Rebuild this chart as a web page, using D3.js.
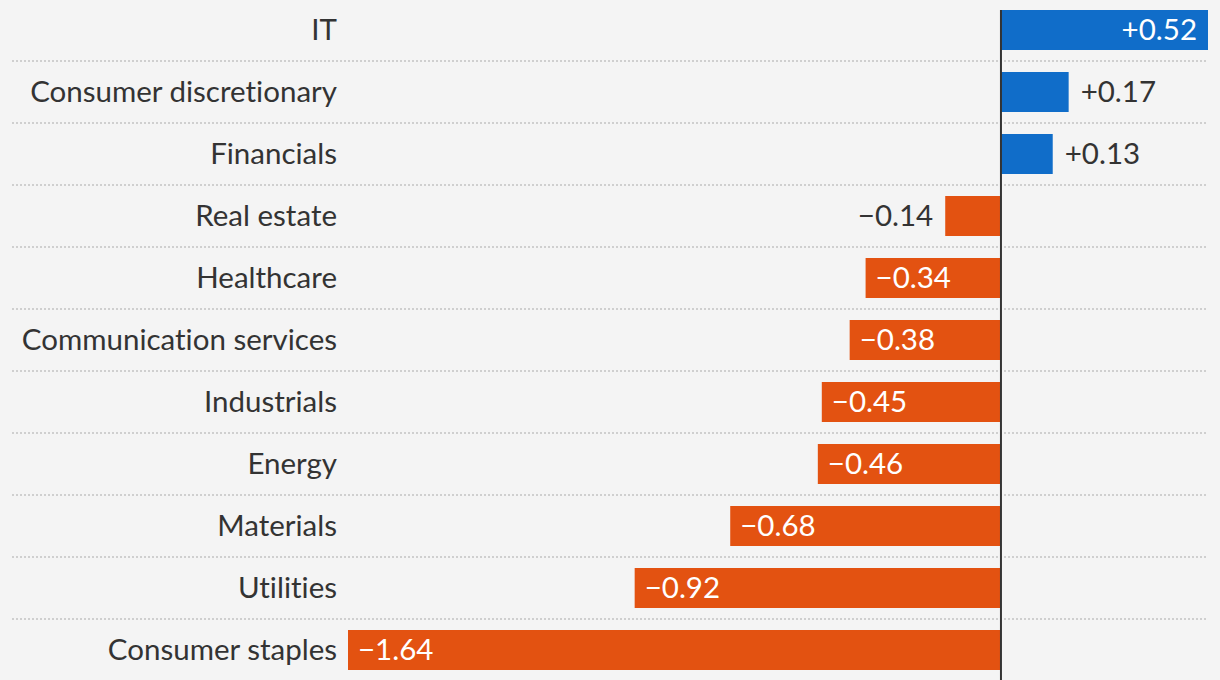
<!DOCTYPE html>
<html><head><meta charset="utf-8">
<script src="https://cdn.jsdelivr.net/npm/d3@7"></script>
<style>
html,body{margin:0;padding:0;background:#f4f4f4;}
svg{display:block;}
text{font-family:Lato,"Noto Sans",sans-serif;font-variant-ligatures:none;font-feature-settings:"liga" 0,"clig" 0;}
</style></head>
<body>
<svg id="c" width="1220" height="680"></svg>
<script>
const categories = ["IT","Consumer discretionary","Financials","Real estate","Healthcare","Communication services","Industrials","Energy","Materials","Utilities","Consumer staples"];
const values = [0.52,0.17,0.13,-0.14,-0.34,-0.38,-0.45,-0.46,-0.68,-0.92,-1.64];
const valueLabels = ["+0.52","+0.17","+0.13","−0.14","−0.34","−0.38","−0.45","−0.46","−0.68","−0.92","−1.64"];

const data = categories.map((c,i)=>({cat:c,v:values[i],lab:valueLabels[i]}));
const svg = d3.select("#c");
const W=1220,H=680;
const fs = 29.5;
const x = d3.scaleLinear().domain([-1.64,0.52]).range([348,1208]);
const y = d3.scaleBand().domain(categories).range([-1,681]).paddingInner(22/62).paddingOuter(11/62);
const bw = y.bandwidth();

svg.append("rect").attr("width",W).attr("height",H).attr("fill","#f4f4f4");

// separators
svg.append("g").selectAll("line").data(categories.slice(0,-1)).join("line")
  .attr("x1",12).attr("x2",1208)
  .attr("y1",d=>y(d)+bw+11).attr("y2",d=>y(d)+bw+11)
  .attr("stroke","#cfcfcf").attr("stroke-width",2).attr("stroke-dasharray","2 2");

// bars
svg.append("g").selectAll("rect").data(data).join("rect")
  .attr("x",d=>x(Math.min(0,d.v)))
  .attr("width",d=>Math.abs(x(d.v)-x(0)))
  .attr("y",d=>y(d.cat)).attr("height",bw)
  .attr("fill",d=>d.v>=0?"#106dc9":"#e35211");

// category labels
svg.append("g").selectAll("text").data(data).join("text")
  .attr("x",337).attr("y",d=>y(d.cat)+bw/2)
  .attr("dy","0.33em").attr("text-anchor","end")
  .attr("font-size",fs).attr("fill","#333")
  .text(d=>d.cat);

// value labels
svg.append("g").selectAll("text").data(data).join("text")
  .each(function(d){
    const w = Math.abs(x(d.v)-x(0));
    const inside = w>100;
    const t = d3.select(this);
    let xp, anchor;
    if(d.v>=0){
      if(inside){xp=x(d.v)-11;anchor="end";} else {xp=x(d.v)+12;anchor="start";}
    } else {
      if(inside){xp=x(d.v)+10;anchor="start";} else {xp=x(d.v)-12;anchor="end";}
    }
    t.attr("x",xp).attr("text-anchor",anchor).attr("fill",inside?"#fff":"#333");
  })
  .attr("y",d=>y(d.cat)+bw/2).attr("dy","0.33em")
  .attr("font-size",fs)
  .text(d=>d.lab);

// zero line
svg.append("line").attr("x1",x(0)).attr("x2",x(0)).attr("y1",y(categories[0])).attr("y2",H)
  .attr("stroke","#333").attr("stroke-width",2);
</script>
</body></html>
